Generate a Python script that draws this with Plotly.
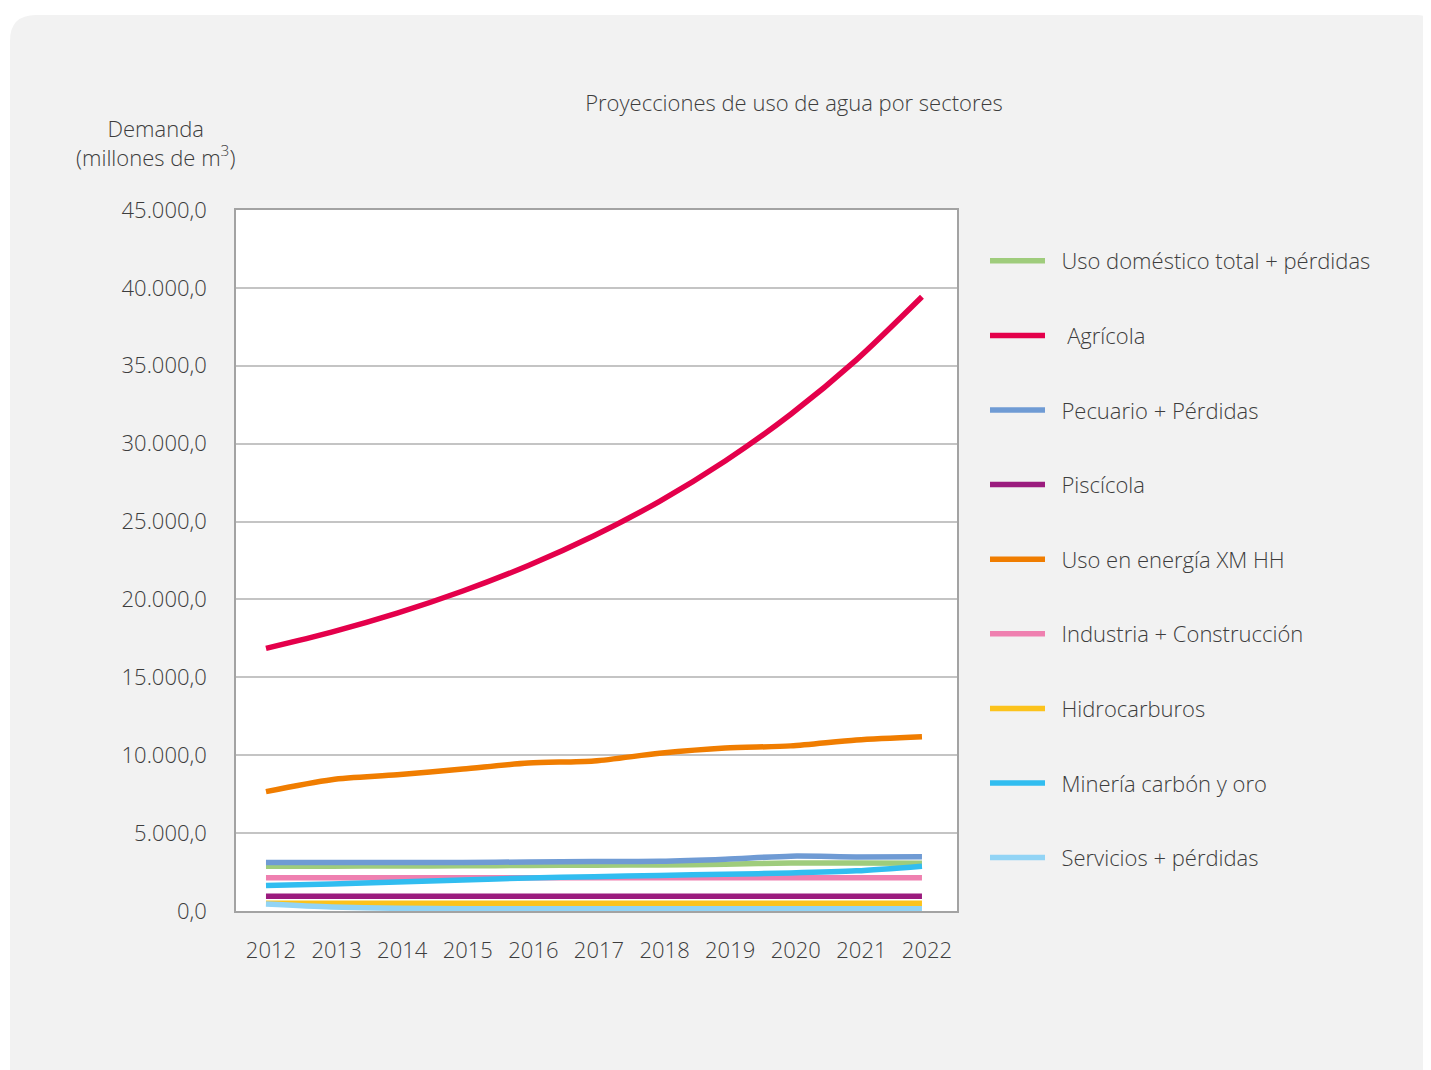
import plotly.graph_objects as go

years = [2012, 2013, 2014, 2015, 2016, 2017, 2018, 2019, 2020, 2021, 2022]

series_names = [
    "  Uso doméstico total + pérdidas",
    "   Agrícola",
    "  Pecuario + Pérdidas",
    "  Piscícola",
    "  Uso en energía XM HH",
    "  Industria + Construcción",
    "  Hidrocarburos",
    "  Minería carbón y oro",
    "  Servicios + pérdidas",
]

domestico = [2880, 2880, 2890, 2900, 2920, 2940, 2960, 3000, 3080, 3080, 3060]
agricola = [16860, 17900, 19120, 20540, 22180, 24090, 26300, 28890, 31890, 35380, 39430]
pecuario = [3120, 3120, 3110, 3110, 3150, 3180, 3190, 3320, 3520, 3470, 3490]
piscicola = [940, 940, 940, 940, 940, 940, 940, 940, 940, 940, 940]
energia = [7660, 8430, 8740, 9110, 9500, 9630, 10120, 10460, 10600, 10980, 11190]
industria = [2140, 2140, 2140, 2140, 2140, 2140, 2140, 2140, 2140, 2140, 2140]
hidrocarburos = [490, 490, 490, 490, 490, 490, 490, 490, 490, 490, 490]
mineria = [1630, 1740, 1860, 1990, 2120, 2200, 2280, 2360, 2440, 2580, 2880]
servicios = [450, 260, 170, 150, 150, 150, 150, 150, 150, 150, 150]

series_values = [domestico, agricola, pecuario, piscicola, energia,
                 industria, hidrocarburos, mineria, servicios]

colors = ["#9fcc7c", "#e4004b", "#6f9bd4", "#9b1b7e", "#f07d00",
          "#ef80b0", "#fcc31c", "#31bdf0", "#92d4f5"]

y_ticks = [0, 5000, 10000, 15000, 20000, 25000, 30000, 35000, 40000, 45000]

W, H = 1431, 1070
OFF = 8  # page body margin in the browser
L, R, T, B = 236, 957, 210, 911  # plot area in screen pixels


def px(x):
    return (x - L) / (R - L)


def py(y):
    return (B - y) / (B - T)


FONT = "Open Sans, Noto Sans, sans-serif"
TXT = "#3d3d3d"
FS = 22

fig = go.Figure()
for i, (name, vals, col) in enumerate(zip(series_names, series_values, colors)):
    fig.add_trace(go.Scatter(
        x=years, y=vals, name=name, mode="lines",
        line=dict(color=col, width=5.5, shape="spline", smoothing=0.8),
        legendgroup=f"g{i}",
    ))

# grey rounded panel
r = 26
x0, y0, x1, y1 = 10, 15, 1431, 1068
path = (
    f"M {px(x0)},{py(y0 + r)} "
    f"Q {px(x0)},{py(y0)} {px(x0 + r)},{py(y0)} "
    f"L {px(x1 - 14)},{py(y0)} "
    f"Q {px(x1)},{py(y0)} {px(x1)},{py(y0 + 14)} "
    f"L {px(x1 + 40)},{py(y0 + 14)} "
    f"L {px(x1 + 40)},{py(y1 + 40)} "
    f"L {px(x0)},{py(y1 + 40)} Z"
)
shapes = [
    dict(type="path", xref="paper", yref="paper", path=path,
         fillcolor="#f2f2f2", line=dict(width=0), layer="below"),
    dict(type="rect", xref="paper", yref="paper", x0=0, x1=1, y0=0, y1=1,
         fillcolor="#ffffff", line=dict(width=0), layer="below"),
]

fig.update_layout(
    width=W, height=H,
    margin=dict(l=L - OFF, r=W - (R - OFF), t=T - OFF, b=H - (B - OFF), pad=0),
    paper_bgcolor="#ffffff",
    plot_bgcolor="rgba(0,0,0,0)",
    separators=",.",
    font=dict(family=FONT, size=FS, color=TXT, weight=300),
    title=dict(text="Proyecciones de uso de agua por sectores",
               x=(794 - OFF) / W, y=1 - (103 - OFF) / H,
               xanchor="center", yanchor="middle",
               font=dict(family=FONT, size=FS, color=TXT, weight=300)),
    shapes=shapes,
    showlegend=True,
    legend=dict(
        x=px(985), y=py(240), xanchor="left", yanchor="top",
        bgcolor="rgba(0,0,0,0)", borderwidth=0,
        font=dict(family=FONT, size=FS, color=TXT, weight=300),
        tracegroupgap=43, traceorder="grouped", itemwidth=55,
    ),
    xaxis=dict(
        range=[2011.543, 2022.534], tickmode="array", tickvals=years,
        ticktext=[str(y) for y in years], showgrid=False, zeroline=False,
        showline=True, linecolor="#a3a3a3", linewidth=1.5, mirror=True,
        ticks="", ticklabelstandoff=19, ticklabelshift=5,
        tickfont=dict(family=FONT, size=FS, color=TXT, weight=300),
    ),
    yaxis=dict(
        range=[0, 45000], tickmode="array", tickvals=y_ticks,
        tickformat=",.1f", showgrid=True, gridcolor="#c4c4c4", gridwidth=1.5,
        zeroline=False, showline=True, linecolor="#a3a3a3", linewidth=1.5,
        mirror=True, ticks="", ticklabelstandoff=23,
        tickfont=dict(family=FONT, size=FS, color=TXT, weight=300),
    ),
    annotations=[
        dict(text="Demanda<br>(millones de m<sup>3</sup>)", xref="paper", yref="paper",
             x=px(155), y=py(142), xanchor="center", yanchor="middle",
             showarrow=False, align="center",
             font=dict(family=FONT, size=FS, color=TXT, weight=300)),
    ],
)

fig.write_html("out.html")
